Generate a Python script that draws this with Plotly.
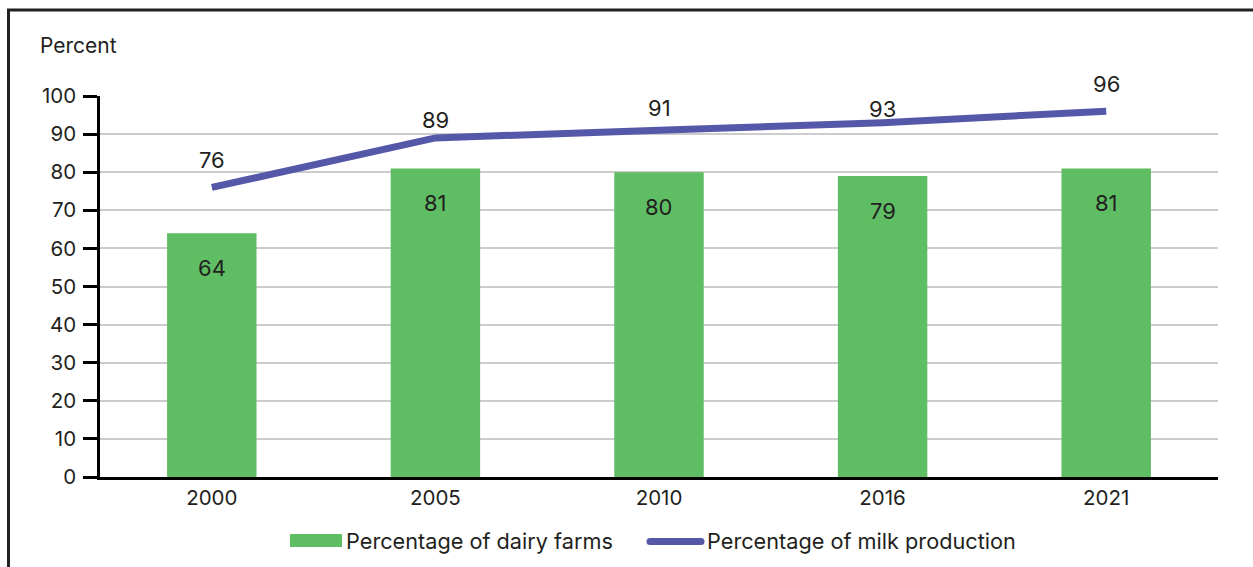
import plotly.graph_objects as go

# Survey years and shares (percent)
years = ["2000", "2005", "2010", "2016", "2021"]
dairy_farms = [64, 81, 80, 79, 81]
milk_production = [76, 89, 91, 93, 96]
y_ticks = [0, 10, 20, 30, 40, 50, 60, 70, 80, 90, 100]

GREEN = "#5fbd63"
PURPLE = "#5558a8"
TEXT = "#231f20"
FONT = "Inter"

# vertical offsets (px) of the line's value labels above each point
line_label_shift = [27, 18, 22, 14, 27]

W, H = 1253, 567
ML, MR, MT, MB = 100, 35, 96, 90
PW = W - ML - MR
PH = H - MT - MB


def px_x(p):
    return (p - ML) / PW


def px_y(p):
    return (H - MB - p) / PH


fig = go.Figure()
fig.add_trace(go.Bar(
    x=years, y=dairy_farms, name="Percentage of dairy farms",
    marker=dict(color=GREEN, line=dict(width=0)), width=0.4,
    showlegend=False,
))
fig.add_trace(go.Scatter(
    x=years, y=milk_production, name="Percentage of milk production",
    mode="lines", line=dict(color=PURPLE, width=7),
    showlegend=False, cliponaxis=False,
))

annotations = []
for i, v in enumerate(dairy_farms):
    annotations.append(dict(x=i, y=v, text=str(v), showarrow=False,
                            yshift=-35, font=dict(size=22, color=TEXT, family=FONT)))
for i, v in enumerate(milk_production):
    annotations.append(dict(x=i, y=v, text=str(v), showarrow=False,
                            yshift=line_label_shift[i],
                            font=dict(size=22, color=TEXT, family=FONT)))

annotations.append(dict(xref="paper", yref="paper", x=px_x(38), y=px_y(45),
                        xanchor="left", yanchor="middle", text="Percent",
                        showarrow=False, font=dict(size=21, color=TEXT, family=FONT)))

# Legend drawn as swatches plus labels below the axis
leg_y = px_y(540.5)
annotations.append(dict(xref="paper", yref="paper", x=px_x(344), y=leg_y,
                        xanchor="left", yanchor="middle", text="Percentage of dairy farms",
                        showarrow=False, font=dict(size=21.7, color=TEXT, family=FONT)))
annotations.append(dict(xref="paper", yref="paper", x=px_x(705), y=leg_y,
                        xanchor="left", yanchor="middle", text="Percentage of milk production",
                        showarrow=False, font=dict(size=21.7, color=TEXT, family=FONT)))

# Rounded purple legend stroke: a bar with round end caps
cap_r = 3.5
lx0, lx1, ly = 650, 701, 541.5
shapes = [
    dict(type="rect", xref="paper", yref="paper",
         x0=px_x(290), x1=px_x(342), y0=px_y(547), y1=px_y(534),
         fillcolor=GREEN, line=dict(width=0)),
    dict(type="rect", xref="paper", yref="paper",
         x0=px_x(lx0), x1=px_x(lx1), y0=px_y(ly + cap_r), y1=px_y(ly - cap_r),
         fillcolor=PURPLE, line=dict(width=0)),
    dict(type="circle", xref="paper", yref="paper",
         x0=px_x(lx0 - cap_r), x1=px_x(lx0 + cap_r), y0=px_y(ly + cap_r), y1=px_y(ly - cap_r),
         fillcolor=PURPLE, line=dict(width=0)),
    dict(type="circle", xref="paper", yref="paper",
         x0=px_x(lx1 - cap_r), x1=px_x(lx1 + cap_r), y0=px_y(ly + cap_r), y1=px_y(ly - cap_r),
         fillcolor=PURPLE, line=dict(width=0)),
    # surrounding frame (left and top edges)
    dict(type="path", xref="paper", yref="paper",
         path=f"M {px_x(8.5)},{px_y(H + 5)} L {px_x(8.5)},{px_y(10)} L {px_x(W + 5)},{px_y(10)}",
         line=dict(color="#222222", width=3)),
]

fig.update_layout(
    width=W, height=H,
    margin=dict(l=ML, r=MR, t=MT, b=MB, pad=0),
    paper_bgcolor="white", plot_bgcolor="white",
    font=dict(family=FONT, size=20, color=TEXT),
    annotations=annotations,
    shapes=shapes,
    xaxis=dict(
        type="category", range=[-0.5, 4.5], showline=True, linecolor="#000000",
        linewidth=3, ticks="", showgrid=False, zeroline=False,
        tickfont=dict(size=20.5, color=TEXT, family=FONT),
    ),
    yaxis=dict(
        range=[0, 100], tickvals=y_ticks, showline=True, linecolor="#000000",
        linewidth=2.5, ticks="outside", ticklen=14, tickwidth=2.5, tickcolor="#000000",
        showgrid=True, gridcolor="#cccccc", gridwidth=1.5, zeroline=False,
        ticklabelstandoff=3,
        tickfont=dict(size=20.5, color=TEXT, family=FONT),
    ),
)

fig.write_html("out.html")
